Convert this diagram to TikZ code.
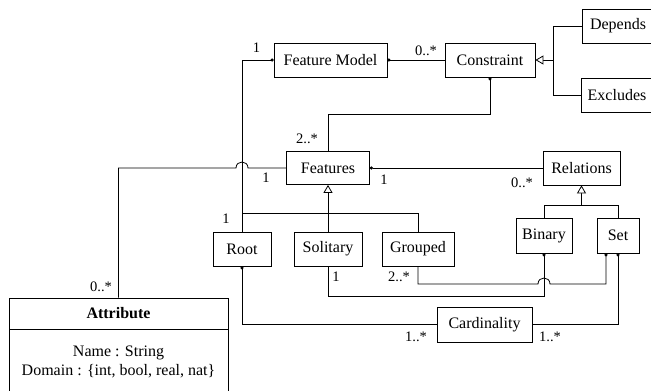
\documentclass[tikz,border=0pt]{standalone}
\usepackage{fontspec}
\setmainfont{Liberation Serif}
\usetikzlibrary{arrows.meta}
\begin{document}
\begin{tikzpicture}[x=1pt,y=-1pt, line width=0.8pt,
  box/.style={draw, minimum height=34pt, inner sep=0pt, font=\fontsize{16}{18}\selectfont, fill=white},
  lbl/.style={font=\fontsize{14.5}{16}\selectfont, inner sep=0pt},
  dot/.style={-{Circle[length=3pt]}},
  gen/.style={-{Triangle[open,length=8pt,width=9pt,fill=white]}}]
\useasboundingbox (0,0) rectangle (651,391);
% boxes
\node[box, minimum width=113pt] (fm) at (330.5,60) {Feature Model};
\node[box, minimum width=90pt] (con) at (490,60) {Constraint};
\node[box, minimum width=72pt] (dep) at (618,26) {Depends};
\node[box, minimum width=72pt] (exc) at (617,95) {Excludes};
\node[box, minimum width=83pt, minimum height=33pt] (feat) at (328,168) {Features};
\node[box, minimum width=77pt] (rel) at (581.5,168) {Relations};
\node[box, minimum width=58pt] (root) at (242,249) {Root};
\node[box, minimum width=68pt] (sol) at (328,249) {Solitary};
\node[box, minimum width=72pt] (grp) at (418,249) {Grouped};
\node[box, minimum width=56pt, minimum height=35pt] (bin) at (544,235.5) {Binary};
\node[box, minimum width=42pt, minimum height=35pt] (set) at (618,235.5) {Set};
\node[box, minimum width=95pt, minimum height=35pt] (card) at (484.5,324.5) {Cardinality};
\node[box, minimum width=219pt, minimum height=31pt, font=\bfseries\fontsize{16}{18}\selectfont] (attr) at (118.5,313.5) {Attribute};
\node[box, minimum width=219pt, minimum height=64pt, anchor=north, align=center, font=\fontsize{16}{19}\selectfont] (attrb) at (attr.south) {Name : String\\Domain : \{int, bool, real, nat\}};
% connectors
\draw[dot] (con.west) -- (fm.east);
\draw[dot] (root.north) -- (242,60) -- (fm.west);
\draw[dot] (feat.north) -- (328,114) -| (con.south);
\draw (feat.west) -- (248,168) .. controls (248,160) and (236,160) .. (236,168) -| (attr.north);
\draw[dot] (rel.west) -- (feat.east);
\draw[gen] (sol.north) -- (feat.south);
\draw (242,213) -- (418,213) -- (grp.north);
\draw[gen] ([yshift=-20pt]rel.south) -- (rel.south);
\draw (bin.north) -- (544,205) -- (618,205) -- (set.north);
\draw[gen] (553,60) -- (con.east);
\draw (dep.west) -- (553,26) -- (553,95) -- (exc.west);
\draw[dot] (sol.south) -- (328,296) -- (544,296) -- (bin.south);
\draw[dot] (grp.south) -- (418,284) -- (538,284) .. controls (538,276) and (550,276) .. (550,284) -- (606,284) -- ([xshift=-12pt]set.south);
\draw[dot] (card.west) -- (242,324.5) -- (root.south);
\draw[dot] (card.east) -- (618,324.5) -- (set.south);
% multiplicities
\node[lbl] (m1) at (426,51) {0..*};
\node[lbl] (m2) at (256.5,48) {1};
\node[lbl] (m3) at (307,139) {2..*};
\node[lbl] (m4) at (266,178) {1};
\node[lbl] (m5) at (384,180) {1};
\node[lbl] (m6) at (522,183) {0..*};
\node[lbl] (m7) at (226,219) {1};
\node[lbl] (m8) at (336,277) {1};
\node[lbl] (m9) at (399,277) {2..*};
\node[lbl] (m10) at (101,287) {0..*};
\node[lbl] (m11) at (416,337) {1..*};
\node[lbl] (m12) at (550,337) {1..*};
\end{tikzpicture}
\end{document}
